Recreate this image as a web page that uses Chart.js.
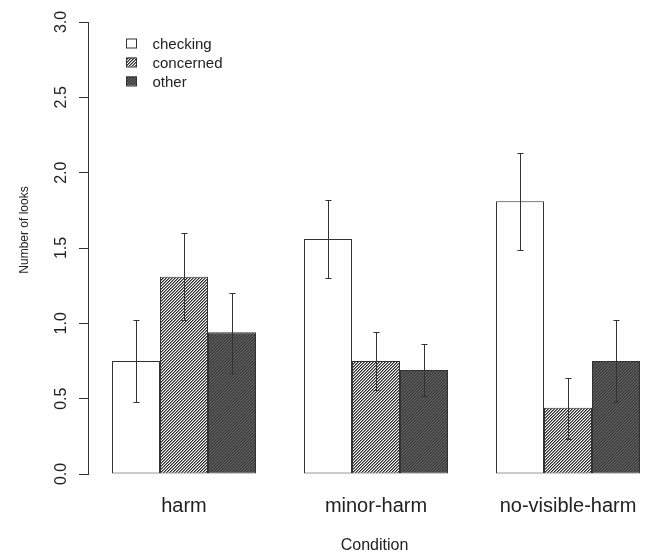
<!DOCTYPE html>
<html>
<head>
<meta charset="utf-8">
<script src="https://cdn.jsdelivr.net/npm/chart.js@4.4.0/dist/chart.umd.min.js"></script>
<style>
html, body { margin: 0; padding: 0; background: #fff; overflow: hidden; }
#wrap { width: 647px; height: 552px; overflow: hidden; }
canvas { display: block; }
</style>
</head>
<body>
<div id="wrap"><canvas id="chart" width="664" height="552"></canvas></div>
<script>
// Looks per condition
const categories = ['harm', 'minor-harm', 'no-visible-harm'];
const seriesNames = ['checking', 'concerned', 'other'];
const checking = [0.75, 1.56, 1.81];
const checkingLow = [0.48, 1.30, 1.49];
const checkingHigh = [1.02, 1.82, 2.13];
const concerned = [1.31, 0.75, 0.44];
const concernedLow = [1.02, 0.56, 0.23];
const concernedHigh = [1.60, 0.94, 0.64];
const other = [0.94, 0.69, 0.75];
const otherLow = [0.67, 0.52, 0.48];
const otherHigh = [1.20, 0.86, 1.02];
const yTicks = [0, 0.5, 1, 1.5, 2, 2.5, 3];

const FONT = "'Liberation Sans', Arial, sans-serif";
const INK = '#222';
const canvas = document.getElementById('chart');
const ctx0 = canvas.getContext('2d');

// small diagonal hatch tiles, like R's density fill
function hatch(bg, fg, mid) {
    const c = document.createElement('canvas');
    c.width = 3; c.height = 3;
    const g = c.getContext('2d');
    g.fillStyle = bg; g.fillRect(0, 0, 3, 3);
    for (let k = 0; k < 3; k++) {
        g.fillStyle = fg; g.fillRect(k, 2 - k, 1, 1);
        g.fillStyle = mid; g.fillRect(k, (3 - k) % 3, 1, 1);
    }
    return ctx0.createPattern(c, 'repeat');
}

const fills = ['#ffffff', hatch('#ffffff', '#2a2a2a', '#8a8a8a'), hatch('#3a3a3a', '#666666', '#484848')];
const lows = [checkingLow, concernedLow, otherLow];
const highs = [checkingHigh, concernedHigh, otherHigh];

const extras = {
    id: 'extras',
    afterDatasetsDraw(chart) {
        const ctx = chart.ctx, y = chart.scales.y;
        ctx.save();
        ctx.strokeStyle = '#333';
        ctx.lineWidth = 1;
        lows.forEach((low, i) => {
            chart.getDatasetMeta(i).data.forEach((bar, j) => {
                const x = Math.round(bar.x) + 0.5;
                const y1 = Math.round(y.getPixelForValue(low[j])) + 0.5;
                const y2 = Math.round(y.getPixelForValue(highs[i][j])) + 0.5;
                ctx.beginPath();
                ctx.moveTo(x, y1); ctx.lineTo(x, y2);
                ctx.moveTo(x - 3, y1); ctx.lineTo(x + 3, y1);
                ctx.moveTo(x - 3, y2); ctx.lineTo(x + 3, y2);
                ctx.stroke();
            });
        });
        ctx.restore();
    },
    afterDraw(chart) {
        const ctx = chart.ctx, y = chart.scales.y;
        ctx.save();
        ctx.fillStyle = INK;
        // rotated y tick labels
        ctx.font = '16px ' + FONT;
        ctx.textAlign = 'center';
        ctx.textBaseline = 'alphabetic';
        y.ticks.forEach(t => {
            ctx.save();
            ctx.translate(65.5, y.getPixelForValue(t.value));
            ctx.rotate(-Math.PI / 2);
            ctx.fillText(t.value.toFixed(1), 0, 0);
            ctx.restore();
        });
        // axis titles
        ctx.font = '12px ' + FONT;
        ctx.save();
        ctx.translate(28, 230);
        ctx.rotate(-Math.PI / 2);
        ctx.fillText('Number of looks', 0, 0);
        ctx.restore();
        ctx.font = '16px ' + FONT;
        ctx.fillText('Condition', 374.5, 550);
        // legend
        ctx.font = '15px ' + FONT;
        ctx.textAlign = 'left';
        seriesNames.forEach((name, i) => {
            const ry = 43 + 19 * i;
            ctx.fillStyle = fills[i];
            ctx.fillRect(126, ry - 4.5, 11, 9);
            ctx.strokeStyle = '#333';
            ctx.strokeRect(126.5, ry - 4, 10, 9);
            ctx.fillStyle = INK;
            ctx.fillText(name, 152.5, ry + 5.5);
        });
        ctx.restore();
    }
};

const mk = (i, data) => ({
    label: seriesNames[i],
    data: data,
    backgroundColor: fills[i],
    borderColor: '#333',
    borderWidth: 1,
    borderSkipped: false,
    categoryPercentage: 0.75,
    barPercentage: 1
});

new Chart(canvas, {
    type: 'bar',
    data: {
        labels: categories,
        datasets: [mk(0, checking), mk(1, concerned), mk(2, other)]
    },
    options: {
        responsive: false,
        animation: false,
        devicePixelRatio: 1,
        layout: { padding: { top: 22, left: 0, right: 0, bottom: 0 } },
        plugins: { legend: { display: false }, tooltip: { enabled: false } },
        scales: {
            x: {
                offset: true,
                grid: { display: false, drawTicks: false },
                border: { display: false },
                ticks: { color: INK, font: { family: FONT, size: 20 }, padding: 20 },
                afterFit(s) { s.height = 78; }
            },
            y: {
                min: 0, max: 3,
                afterBuildTicks(s) { s.ticks = yTicks.map(v => ({ value: v })); },
                ticks: { display: false },
                grid: { drawOnChartArea: false, color: '#333', tickLength: 9 },
                border: { display: true, color: '#333' },
                afterFit(s) { s.width = 88; }
            }
        }
    },
    plugins: [extras]
});
</script>
</body>
</html>
